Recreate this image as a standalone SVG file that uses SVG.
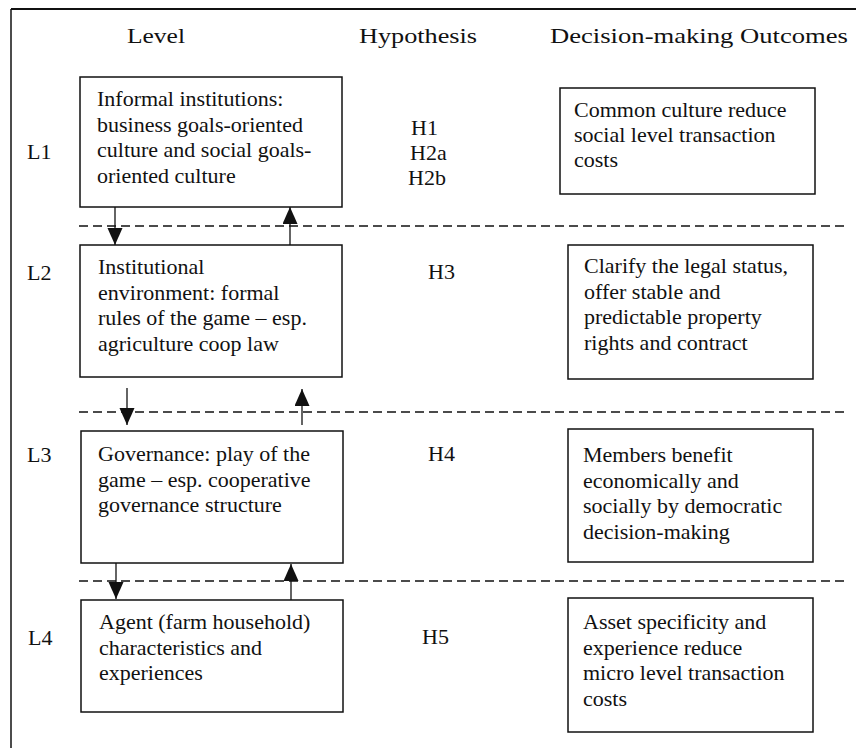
<svg xmlns="http://www.w3.org/2000/svg" width="856" height="748" viewBox="0 0 856 748">
<style>
text{font-family:"Liberation Serif","Times New Roman",serif;font-size:22px;fill:#111}
.hd{font-size:22px}
.box{fill:#fff;stroke:#111;stroke-width:1.5}
.dash{stroke:#111;stroke-width:1.4;stroke-dasharray:9 5;fill:none}
.arr{stroke:#111;stroke-width:1.3;fill:none;marker-end:url(#ah)}
.frame{stroke:#111;fill:none}
</style>
<defs>
<marker id="ah" markerUnits="userSpaceOnUse" markerWidth="18" markerHeight="16" refX="17" refY="7.5" orient="auto">
<path d="M0,0 L17,7.5 L0,15 Z" fill="#111"/>
</marker>
</defs>
<rect width="856" height="748" fill="#fff"/>
<g id="frame">
<line class="frame" x1="11" y1="9" x2="856" y2="9" stroke-width="2"/>
<line class="frame" x1="11" y1="9" x2="11" y2="748" stroke-width="1.5"/>
</g>
<g id="headers">
<text class="hd" x="127" y="43" textLength="58" lengthAdjust="spacingAndGlyphs">Level</text>
<text class="hd" x="359" y="43" textLength="118" lengthAdjust="spacingAndGlyphs">Hypothesis</text>
<text class="hd" x="550" y="43" textLength="298" lengthAdjust="spacingAndGlyphs">Decision-making Outcomes</text>
</g>
<g id="separators">
<line class="dash" x1="79" y1="226" x2="845" y2="226"/>
<line class="dash" x1="79" y1="412" x2="845" y2="412"/>
<line class="dash" x1="79" y1="581" x2="845" y2="581"/>
</g>
<g id="level-labels">
<text x="27" y="159">L1</text>
<text x="27" y="280">L2</text>
<text x="27" y="462">L3</text>
<text x="28" y="645">L4</text>
</g>
<g id="hypotheses">
<text x="411" y="135">H1</text>
<text x="410" y="160">H2a</text>
<text x="408" y="185">H2b</text>
<text x="428" y="279">H3</text>
<text x="428" y="461">H4</text>
<text x="422" y="644">H5</text>
</g>
<g id="L1">
<rect class="box" x="80" y="77" width="262" height="130"/>
<text x="97"><tspan x="97" y="106">Informal institutions:</tspan><tspan x="97" y="131.5">business goals-oriented</tspan><tspan x="97" y="157">culture and social goals-</tspan><tspan x="97" y="182.5">oriented culture</tspan></text>
</g>
<g id="L2">
<rect class="box" x="80" y="245" width="262" height="132"/>
<text x="98"><tspan x="98" y="274">Institutional</tspan><tspan x="98" y="299.5">environment: formal</tspan><tspan x="98" y="325">rules of the game – esp.</tspan><tspan x="98" y="350.5">agriculture coop law</tspan></text>
</g>
<g id="L3">
<rect class="box" x="81" y="431" width="262" height="132"/>
<text x="98"><tspan x="98" y="461">Governance: play of the</tspan><tspan x="98" y="486.5">game – esp. cooperative</tspan><tspan x="98" y="512">governance structure</tspan></text>
</g>
<g id="L4">
<rect class="box" x="81" y="600" width="262" height="112"/>
<text x="99"><tspan x="99" y="629">Agent (farm household)</tspan><tspan x="99" y="654.5">characteristics and</tspan><tspan x="99" y="680">experiences</tspan></text>
</g>
<g id="R1">
<rect class="box" x="560" y="88" width="255" height="106"/>
<text x="574"><tspan x="574" y="117">Common culture reduce</tspan><tspan x="574" y="142">social level transaction</tspan><tspan x="574" y="167">costs</tspan></text>
</g>
<g id="R2">
<rect class="box" x="568" y="245" width="245" height="134"/>
<text x="584"><tspan x="584" y="273">Clarify the legal status,</tspan><tspan x="584" y="298.5">offer stable and</tspan><tspan x="584" y="324">predictable property</tspan><tspan x="584" y="349.5">rights and contract</tspan></text>
</g>
<g id="R3">
<rect class="box" x="568" y="429" width="245" height="133"/>
<text x="583"><tspan x="583" y="462">Members benefit</tspan><tspan x="583" y="487.5">economically and</tspan><tspan x="583" y="513">socially by democratic</tspan><tspan x="583" y="538.5">decision-making</tspan></text>
</g>
<g id="R4">
<rect class="box" x="568" y="598" width="245" height="134"/>
<text x="583"><tspan x="583" y="629">Asset specificity and</tspan><tspan x="583" y="654.5">experience reduce</tspan><tspan x="583" y="680">micro level transaction</tspan><tspan x="583" y="705.5">costs</tspan></text>
</g>
<g id="connectors">
<path class="arr" d="M115,207 L115,245"/>
<path class="arr" d="M290,245 L290,207"/>
<path class="arr" d="M127,388 L127,425"/>
<path class="arr" d="M302,425 L302,389"/>
<path class="arr" d="M116,563 L116,599"/>
<path class="arr" d="M291,600 L291,564"/>
</g>
</svg>
